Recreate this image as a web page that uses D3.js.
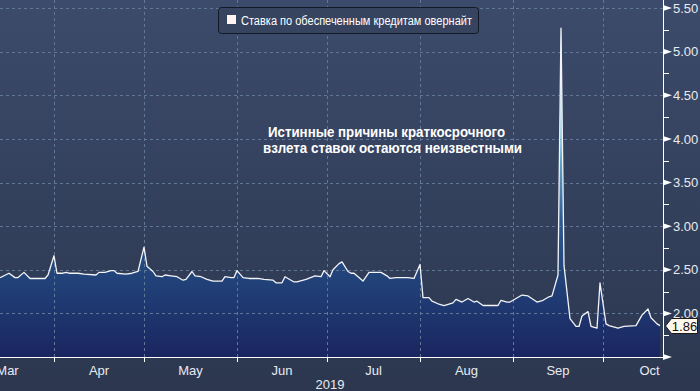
<!DOCTYPE html>
<html><head><meta charset="utf-8">
<script src="https://cdn.jsdelivr.net/npm/d3@7"></script>
<style>
html,body{margin:0;padding:0;background:#2e3a53;}
svg{display:block;font-family:"Liberation Sans",Arial,sans-serif;}
</style>
</head><body>
<svg id="chart" width="700" height="391"></svg>
<script>
// ---- data ----
const dates = [
 "2019-03-14","2019-03-17","2019-03-19","2019-03-20","2019-03-22","2019-03-24","2019-03-29","2019-03-30",
 "2019-04-01","2019-04-02","2019-04-04","2019-04-05","2019-04-06","2019-04-09","2019-04-11","2019-04-15",
 "2019-04-16","2019-04-18","2019-04-20","2019-04-21","2019-04-22","2019-04-25","2019-04-27","2019-04-29",
 "2019-05-01","2019-05-02","2019-05-04","2019-05-05","2019-05-07","2019-05-08","2019-05-10","2019-05-12",
 "2019-05-14","2019-05-15","2019-05-17","2019-05-18","2019-05-20","2019-05-22","2019-05-24","2019-05-27",
 "2019-05-28","2019-05-30","2019-05-31","2019-06-01","2019-06-03","2019-06-05","2019-06-08","2019-06-10",
 "2019-06-13","2019-06-14","2019-06-16","2019-06-17","2019-06-20","2019-06-21","2019-06-24","2019-06-27",
 "2019-06-29","2019-06-30","2019-07-02","2019-07-03","2019-07-05","2019-07-06","2019-07-08","2019-07-09",
 "2019-07-10","2019-07-13","2019-07-15","2019-07-19","2019-07-21","2019-07-22","2019-07-24","2019-07-28",
 "2019-07-30","2019-08-01","2019-08-02","2019-08-04","2019-08-05","2019-08-07","2019-08-09","2019-08-12",
 "2019-08-13","2019-08-15","2019-08-17","2019-08-19","2019-08-20","2019-08-22","2019-08-27","2019-08-28",
 "2019-08-30","2019-08-31","2019-09-02","2019-09-04","2019-09-06","2019-09-09","2019-09-11","2019-09-13",
 "2019-09-14","2019-09-16","2019-09-17","2019-09-18","2019-09-20","2019-09-22","2019-09-23","2019-09-24",
 "2019-09-26","2019-09-27","2019-09-29","2019-09-30","2019-10-02","2019-10-03","2019-10-06","2019-10-08",
 "2019-10-12","2019-10-14","2019-10-16","2019-10-17","2019-10-19","2019-10-20"
];
const rates = [
 2.41,2.46,2.41,2.41,2.47,2.40,2.40,2.44,
 2.66,2.46,2.46,2.47,2.46,2.46,2.45,2.44,
 2.47,2.47,2.49,2.49,2.46,2.45,2.46,2.48,
 2.76,2.54,2.48,2.43,2.42,2.44,2.43,2.42,
 2.38,2.39,2.48,2.43,2.42,2.39,2.37,2.37,
 2.42,2.41,2.41,2.49,2.41,2.40,2.40,2.39,
 2.38,2.35,2.35,2.42,2.36,2.36,2.39,2.43,
 2.42,2.49,2.42,2.50,2.57,2.59,2.48,2.46,
 2.46,2.37,2.47,2.47,2.43,2.40,2.41,2.41,
 2.40,2.56,2.18,2.18,2.14,2.11,2.09,2.12,
 2.16,2.13,2.17,2.13,2.14,2.09,2.09,2.15,
 2.13,2.13,2.17,2.21,2.20,2.13,2.15,2.19,
 2.20,2.44,5.27,2.55,1.94,1.85,1.85,1.97,
 2.02,1.85,1.83,2.35,1.88,1.86,1.83,1.85,
 1.86,1.98,2.05,1.95,1.88,1.86
];
const yTickValues = [2.00,2.50,3.00,3.50,4.00,4.50,5.00,5.50];
const yMinorValues = [1.75,2.25,2.75,3.25,3.75,4.25,4.75,5.25];
const monthStarts = ["2019-03-01","2019-04-01","2019-05-01","2019-06-01","2019-07-01","2019-08-01","2019-09-01","2019-10-01","2019-11-01"];
const monthLabels = ["Mar","Apr","May","Jun","Jul","Aug","Sep","Oct"];
const yearLabel = "2019";
const legendLabel = "Ставка по обеспеченным кредитам овернайт";
const annotationLines = ["Истинные причины краткосрочного","взлета ставок остаются неизвестными"];
const lastValueLabel = "1.86";

// ---- setup ----
const W = 700, H = 391;
const plotRight = 663, plotBottom = 357;
const parse = d3.timeParse("%Y-%m-%d");
const data = dates.map((d,i)=>({date:parse(d), v:rates[i]}));

const x = d3.scaleTime()
  .domain([parse("2019-03-14"), parse("2019-10-21")])
  .range([0, plotRight]);
const y = d3.scaleLinear().domain([1.5, 5.5]).range([plotBottom, 8]);

const svg = d3.select("#chart");
const defs = svg.append("defs");

const bg = defs.append("linearGradient").attr("id","bg").attr("x1",0).attr("y1",0).attr("x2",0).attr("y2",1);
bg.append("stop").attr("offset","0%").attr("stop-color","#3c4b6b");
bg.append("stop").attr("offset","100%").attr("stop-color","#2c374f");

const ag = defs.append("linearGradient").attr("id","area").attr("gradientUnits","userSpaceOnUse")
  .attr("x1",0).attr("y1",0).attr("x2",0).attr("y2",plotBottom);
[[0,"#f4fbff"],[0.18,"#c4ecf8"],[0.38,"#7cc4e0"],[0.62,"#2e5a92"],[0.76,"#22457c"],[1,"#1a2560"]]
  .forEach(([o,c])=>ag.append("stop").attr("offset",o).attr("stop-color",c));

defs.append("clipPath").attr("id","clip").append("rect")
  .attr("x",0).attr("y",0).attr("width",plotRight).attr("height",plotBottom);

svg.append("rect").attr("width",W).attr("height",H).attr("fill","url(#bg)");

// area + line
const g = svg.append("g").attr("clip-path","url(#clip)");
g.append("path").datum(data)
  .attr("d", d3.area().x(d=>x(d.date)).y0(plotBottom).y1(d=>y(d.v)))
  .attr("fill","url(#area)");

// gridlines
const gridColor = "#607896";
g.selectAll(".hg").data(yTickValues).join("line")
  .attr("x1",0).attr("x2",plotRight)
  .attr("y1",d=>Math.round(y(d))+0.5).attr("y2",d=>Math.round(y(d))+0.5)
  .attr("stroke",gridColor).attr("stroke-dasharray","3,3").attr("stroke-width",1);
const innerMonths = monthStarts.slice(1,-1).map(parse);
g.selectAll(".vg").data(innerMonths).join("line")
  .attr("x1",d=>Math.round(x(d))+0.5).attr("x2",d=>Math.round(x(d))+0.5)
  .attr("y1",0).attr("y2",plotBottom)
  .attr("stroke",gridColor).attr("stroke-dasharray","3,3").attr("stroke-width",1);

g.append("path").datum(data)
  .attr("d", d3.line().x(d=>x(d.date)).y(d=>y(d.v)))
  .attr("fill","none").attr("stroke","#f2f4f8").attr("stroke-width",1.3).attr("stroke-linejoin","round");

// ---- right axis ----
const axG = svg.append("g");
axG.append("line").attr("x1",plotRight+0.5).attr("x2",plotRight+0.5).attr("y1",0).attr("y2",plotBottom)
  .attr("stroke","#ffffff").attr("stroke-width",1);
axG.selectAll(".minor").data(yMinorValues).join("line")
  .attr("x1",plotRight).attr("x2",plotRight+6)
  .attr("y1",d=>Math.round(y(d))+0.5).attr("y2",d=>Math.round(y(d))+0.5)
  .attr("stroke","#ffffff");
axG.selectAll(".major").data([1.5].concat(yTickValues)).join("path")
  .attr("d",d=>{const yy=y(d); return `M${plotRight},${yy-3}L${plotRight+9},${yy}L${plotRight},${yy+3}Z`;})
  .attr("fill","#ffffff");
axG.selectAll(".ylab").data(yTickValues).join("text")
  .attr("x",673).attr("y",d=>y(d)).attr("dy","0.36em")
  .attr("fill","#e8ebf0").attr("font-size","13px")
  .text(d=>d3.format(".2f")(d));

// ---- bottom axis ----
svg.append("line").attr("x1",0).attr("x2",plotRight).attr("y1",plotBottom+0.5).attr("y2",plotBottom+0.5)
  .attr("stroke","#ffffff");
svg.selectAll(".xt").data(innerMonths).join("line")
  .attr("x1",d=>Math.round(x(d))+0.5).attr("x2",d=>Math.round(x(d))+0.5)
  .attr("y1",plotBottom).attr("y2",plotBottom+5).attr("stroke","#ffffff");
const mids = monthLabels.map((m,i)=>{
  const a=parse(monthStarts[i]), b=parse(monthStarts[i+1]);
  return {m, d:new Date((+a + +b)/2)};
});
svg.selectAll(".xl").data(mids).join("text")
  .attr("x",d=>x(d.d)).attr("y",375).attr("text-anchor","middle")
  .attr("fill","#e8ebf0").attr("font-size","13px").text(d=>d.m);
svg.append("text").attr("x",330).attr("y",389).attr("text-anchor","middle")
  .attr("fill","#e8ebf0").attr("font-size","13px").text(yearLabel);

// ---- last value label ----
const last = data[data.length-1];
const ly = Math.round(y(last.v)) ;
const lbl = svg.append("g");
lbl.append("path")
  .attr("d",`M665.5,${ly}L671.5,${ly-7.5}L697.5,${ly-7.5}L697.5,${ly+7.5}L671.5,${ly+7.5}Z`)
  .attr("fill","#fff7ec").attr("stroke","#1a1a1a").attr("stroke-width",1);
lbl.append("text").attr("x",684.5).attr("y",ly).attr("dy","0.36em").attr("text-anchor","middle")
  .attr("fill","#111").attr("font-size","13px").text(lastValueLabel);

// ---- legend ----
const lg = svg.append("g");
lg.append("rect").attr("x",218.5).attr("y",7.5).attr("width",260).attr("height",26).attr("rx",3)
  .attr("fill","#36445f").attr("stroke","#111826");
lg.append("rect").attr("x",227).attr("y",15).attr("width",9).attr("height",9).attr("fill","#fff4f0");
lg.append("text").attr("x",241).attr("y",25).attr("fill","#ffffff").attr("font-size","12px")
  .attr("textLength",231).attr("lengthAdjust","spacingAndGlyphs").text(legendLabel);

// ---- annotation ----
const ann = svg.append("g").attr("font-weight","bold").attr("font-size","14px").attr("fill","#ffffff");
ann.append("text").attr("x",268).attr("y",137).attr("textLength",237).attr("lengthAdjust","spacingAndGlyphs").text(annotationLines[0]);
ann.append("text").attr("x",263).attr("y",152.5).attr("textLength",259).attr("lengthAdjust","spacingAndGlyphs").text(annotationLines[1]);
</script>
</body></html>
